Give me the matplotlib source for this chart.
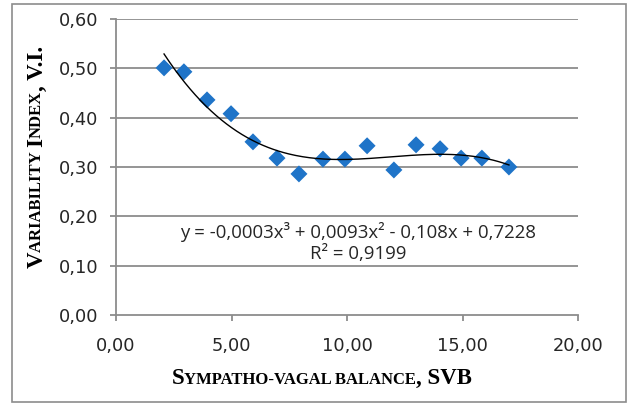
import numpy as np
import matplotlib
matplotlib.use("Agg")
import matplotlib.pyplot as plt
from matplotlib.patches import Rectangle

# Data
svb = [2.08, 2.94, 3.94, 4.98, 5.93, 6.97, 7.92, 8.96, 9.91, 10.87,
       12.03, 12.99, 14.03, 14.94, 15.84, 17.01]
vi = [0.501, 0.493, 0.436, 0.408, 0.351, 0.318, 0.286, 0.316, 0.316, 0.343,
      0.294, 0.345, 0.337, 0.318, 0.318, 0.300]
x_ticks = [0, 5, 10, 15, 20]
y_ticks = [0.0, 0.1, 0.2, 0.3, 0.4, 0.5, 0.6]
eq_text = "y = -0,0003x³ + 0,0093x² - 0,108x + 0,7228"
r2_text = "R² = 0,9199"

W, H = 629, 405
fig = plt.figure(figsize=(W / 100, H / 100), dpi=100)
fig.patch.set_facecolor("white")

# outer border
fig.patches.append(Rectangle((12 / W, 1 - 402 / H), (626 - 12) / W, (402 - 4) / H,
                             transform=fig.transFigure, fill=False,
                             edgecolor="#8c8c8c", lw=1.2))

ax = fig.add_axes([116 / W, 1 - 315 / H, (578 - 116) / W, (315 - 19) / H])
ax.set_xlim(0, 20)
ax.set_ylim(0, 0.6)
ax.set_xticks(x_ticks)
ax.set_yticks(y_ticks)
ax.set_xticklabels([f"{v:.2f}".replace(".", ",") for v in x_ticks])
ax.set_yticklabels([f"{v:.2f}".replace(".", ",") for v in y_ticks])
grid_c = "#8c8c8c"
for v in y_ticks[1:]:
    ax.axhline(v, color=grid_c, lw=1.3, zorder=1)
for s in ["top", "right"]:
    ax.spines[s].set_visible(False)
for s in ["left", "bottom"]:
    ax.spines[s].set_color(grid_c)
    ax.spines[s].set_linewidth(1.3)
ax.tick_params(axis="both", direction="out", length=4.5, width=1.3, color=grid_c,
               labelsize=12.8, labelcolor="#262626")
ax.tick_params(axis="x", pad=11)
ax.tick_params(axis="y", pad=8)
for lab in ax.get_xticklabels() + ax.get_yticklabels():
    lab.set_family("DejaVu Sans")

ax.scatter(svb, vi, marker="D", s=75, color="#1f74c8", edgecolor="none", zorder=3)

coef = np.polyfit(svb, vi, 3)
xs = np.linspace(min(svb), max(svb), 200)
ax.plot(xs, np.polyval(coef, xs), color="black", lw=1.0, zorder=4)

ax.text(358 / W, 1 - 232 / H, eq_text, transform=fig.transFigure, ha="center",
        va="center", fontsize=13.4, family="Open Sans", color="#262626")
ax.text(358 / W, 1 - 254 / H, r2_text, transform=fig.transFigure, ha="center",
        va="center", fontsize=13.4, family="Open Sans", color="#262626")


def small_caps(parts, cx, cy, rotation=0, big=16.5, small=12):
    """parts: list of (text, is_big). Centered at figure pixel (cx, cy from top)."""
    renderer = fig.canvas.get_renderer()
    widths = []
    for t, b in parts:
        tt = fig.text(0, 0, t, fontsize=big if b else small, family="Liberation Serif",
                      weight="bold")
        bb = tt.get_window_extent(renderer)
        widths.append(bb.width)
        tt.remove()
    total = sum(widths)
    pos = -total / 2
    for (t, b), w in zip(parts, widths):
        if rotation == 0:
            px, py = cx + pos, H - cy
        else:
            px, py = cx, H - cy + pos
        fig.text(px / W, py / H, t, fontsize=big if b else small,
                 family="Liberation Serif", weight="bold", rotation=rotation,
                 ha="left" if rotation == 0 else "center",
                 va="baseline" if rotation == 0 else "bottom",
                 rotation_mode="anchor" if rotation == 0 else "default",
                 color="black")
        pos += w


fig.canvas.draw()
small_caps([("S", True), ("YMPATHO-VAGAL BALANCE", False), (", SVB", True)],
           322, 384, rotation=0)
small_caps([("V", True), ("ARIABILITY ", False), ("I", True), ("NDEX", False),
            (", V.I.", True)], 37, 157, rotation=90)

fig.savefig("out.png", dpi=100, facecolor="white")
